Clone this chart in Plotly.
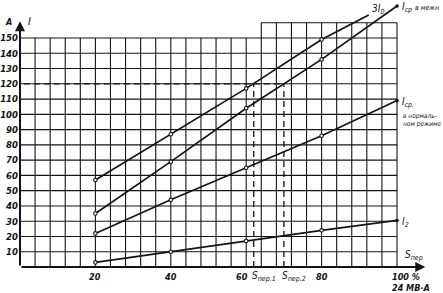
import plotly.graph_objects as go

# ---- data ----
s_load = [20, 40, 60, 80]                 # S_пер, %
i0_3 = [57, 87, 117, 149]                  # 3I0
i0_3_end = (92.5, 165)
icp_mezh = [35, 69, 104, 136]              # I_ср в межн
icp_mezh_end = (100, 171)
icp_norm = [22, 44, 65, 86]                # I_ср в нормальном режиме
icp_norm_end = (100, 109)
i2 = [3, 10, 17, 24]                       # I2
i2_end = (100, 30.5)

x_ticks = [20, 40, 60, 80]
x_ticktext = ["20", "40", "60", "80"]
x_tickshift = [0, 0, -4, 0]
y_ticks = list(range(10, 151, 10))
s_per = [62, 70]                           # S_пер.1, S_пер.2
i_level = 120

FONT = "DejaVu Sans Condensed, Liberation Sans Narrow, DejaVu Sans"
INK = "#141414"

fig = go.Figure()

# grid
shapes = []
grid_x = list(range(4, 101, 4))
for gx in grid_x:
    top = 160 if gx >= 64 else 150
    shapes.append(dict(type="line", xref="x", yref="y", x0=gx, x1=gx, y0=0, y1=top,
                       line=dict(color=INK, width=1.1), layer="below"))
for gy in y_ticks:
    shapes.append(dict(type="line", xref="x", yref="y", x0=0, x1=100, y0=gy, y1=gy,
                       line=dict(color=INK, width=1.1), layer="below"))
shapes.append(dict(type="line", xref="x", yref="y", x0=64, x1=100, y0=160, y1=160,
                   line=dict(color=INK, width=1.1), layer="below"))
# dashed construction lines
shapes.append(dict(type="line", xref="x", yref="y", x0=1, x1=s_per[1], y0=i_level, y1=i_level,
                   line=dict(color=INK, width=1.3, dash="6px,4px")))
for sx in s_per:
    shapes.append(dict(type="line", xref="x", yref="y", x0=sx, x1=sx, y0=0, y1=i_level,
                       line=dict(color=INK, width=1.3, dash="6px,4px")))

def add_curve(ys, end, enddot):
    xs = s_load + [end[0]]
    yv = ys + [end[1]]
    fig.add_trace(go.Scatter(x=xs, y=yv, mode="lines", line=dict(color=INK, width=1.7),
                             hoverinfo="skip", showlegend=False))
    fig.add_trace(go.Scatter(x=s_load, y=ys, mode="markers",
                             marker=dict(size=3.5, color="white", line=dict(color=INK, width=1.1)),
                             hoverinfo="skip", showlegend=False))
    if enddot:
        fig.add_trace(go.Scatter(x=[end[0]], y=[end[1]], mode="markers",
                                 marker=dict(size=3.5, color=INK),
                                 hoverinfo="skip", showlegend=False))

add_curve(i0_3, i0_3_end, False)
add_curve(icp_mezh, icp_mezh_end, True)
add_curve(icp_norm, icp_norm_end, True)
add_curve(i2, i2_end, True)

tf = dict(family=FONT, size=10, color=INK, style="italic", weight="bold")
xf = dict(family=FONT, size=9, color=INK, style="italic", weight="bold")
sf = dict(family=FONT, size=6.5, color=INK, style="italic")

ann = []
# axes with arrows
ann.append(dict(x=107.5, y=0, ax=0, ay=0, xref="x", yref="y", axref="x", ayref="y",
                text="", showarrow=True, arrowhead=2, arrowsize=1, arrowwidth=2, arrowcolor=INK))
ann.append(dict(x=0, y=161, ax=0, ay=0, xref="x", yref="y", axref="x", ayref="y",
                text="", showarrow=True, arrowhead=2, arrowsize=1, arrowwidth=2, arrowcolor=INK))
# x tick labels
for xv, xt, xs in zip(x_ticks, x_ticktext, x_tickshift):
    ann.append(dict(x=xv, y=0, xref="x", yref="y", text=xt, font=xf, showarrow=False,
                    xanchor="center", xshift=xs, yanchor="top", yshift=-3))
ann += [
    dict(x=0, y=161, xref="x", yref="y", text="A", font=dict(tf, size=9), showarrow=False,
         xanchor="right", xshift=-6, yanchor="middle", yshift=-1),
    dict(x=0, y=161, xref="x", yref="y", text="I", font=dict(tf, size=11, weight="normal"), showarrow=False,
         xanchor="left", xshift=6, yanchor="middle", yshift=0),
    dict(x=107.5, y=0, xref="x", yref="y", text="S<sub>пер</sub>", font=dict(tf, size=10, weight="normal"),
         showarrow=False, xanchor="right", yanchor="bottom", yshift=3),
    dict(x=100, y=0, xref="x", yref="y", text="100 %", font=xf, showarrow=False,
         xanchor="left", xshift=-7, yanchor="top", yshift=-3),
    dict(x=100, y=0, xref="x", yref="y", text="24 МВ·А", font=xf, showarrow=False,
         xanchor="left", xshift=-7, yanchor="top", yshift=-14),
    dict(x=s_per[0], y=0, xref="x", yref="y", text="S<sub>пер.1</sub>", font=dict(tf, weight="normal"),
         showarrow=False, xanchor="left", xshift=-4, yanchor="top", yshift=-1),
    dict(x=s_per[1], y=0, xref="x", yref="y", text="S<sub>пер.2</sub>", font=dict(tf, weight="normal"),
         showarrow=False, xanchor="left", xshift=-4, yanchor="top", yshift=-1),
    dict(x=i0_3_end[0], y=i0_3_end[1], xref="x", yref="y", text="3I<sub>0</sub>", font=dict(tf, weight="normal"),
         showarrow=False, xanchor="left", xshift=1, yanchor="bottom", yshift=-3),
    dict(x=icp_mezh_end[0], y=icp_mezh_end[1], xref="x", yref="y",
         text="I<sub>ср</sub> <span style='font-size:7px'>в межн</span>", font=dict(tf, weight="normal"),
         showarrow=False, xanchor="left", xshift=3, yanchor="middle", yshift=-2),
    dict(x=icp_norm_end[0], y=icp_norm_end[1], xref="x", yref="y", text="I<sub>ср.</sub>",
         font=dict(tf, weight="normal"), showarrow=False, xanchor="left", xshift=3, yanchor="middle", yshift=-2),
    dict(x=icp_norm_end[0], y=icp_norm_end[1], xref="x", yref="y", text="в нормаль-<br>ном режиме",
         font=sf, showarrow=False, xanchor="left", xshift=4, yanchor="top", yshift=-9, align="left"),
    dict(x=i2_end[0], y=i2_end[1], xref="x", yref="y", text="I<sub>2</sub>", font=dict(tf, weight="normal"),
         showarrow=False, xanchor="left", xshift=3, yanchor="middle", yshift=-2),
]

fig.update_layout(
    width=443, height=293,
    margin=dict(l=20, r=0, t=0, b=26),
    paper_bgcolor="white", plot_bgcolor="white",
    shapes=shapes, annotations=ann, showlegend=False,
    xaxis=dict(range=[0, 112.2], showgrid=False, zeroline=False, showline=False,
               showticklabels=False, ticks="", fixedrange=True),
    yaxis=dict(range=[0, 174.9], showgrid=False, zeroline=False, showline=False,
               tickvals=y_ticks, ticks="", tickfont=dict(tf, size=9.5), ticklabelstandoff=1, fixedrange=True),
)

fig.write_html("out.html")
